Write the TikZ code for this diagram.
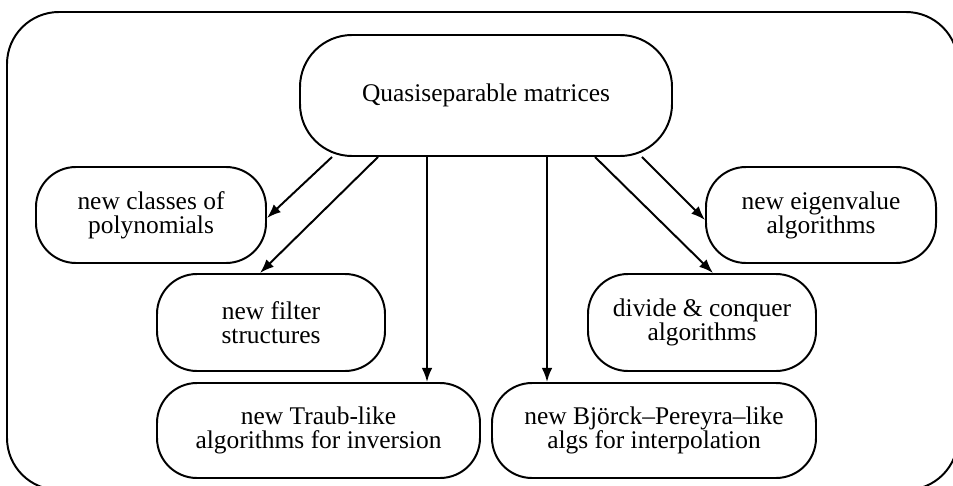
\documentclass[tikz,border=0pt]{standalone}
\usepackage{fontspec}
\setmainfont{Liberation Serif}
\usetikzlibrary{arrows.meta,positioning}

\begin{document}
\begin{tikzpicture}[font=\fontsize{18.1}{17}\selectfont,
  b/.style={rectangle,rounded corners=1cm,minimum width=5.75cm,minimum height=2.4cm,
            align=center,draw,line width=1.4pt,inner sep=0pt},
  a/.style={-{Latex[length=10pt,width=7.5pt]},line width=1.4pt}]

  \useasboundingbox (0,0) rectangle (23.825,-12.125);
  \draw[line width=1.4pt,rounded corners=1.3cm] (0.175,-0.3) rectangle (23.95,-12.25);

  \node[b,minimum width=9.3cm,minimum height=3.025cm,rounded corners=1.3cm] (qs) at (12.15,-2.3875) {Quasiseparable matrices};
  \node[b] (cl) at (3.775,-5.375) {new classes of\\polynomials};
  \node[b] (ev) at (20.525,-5.375) {new eigenvalue\\algorithms};
  \node[b,minimum width=5.7cm,minimum height=2.425cm] (fs) at (6.775,-8.0625) {new filter\\structures};
  \node[b,minimum width=5.7cm,minimum height=2.425cm] (dc) at (17.55,-8.0625) {divide \& conquer\\algorithms};
  \node[b,minimum width=8.075cm,minimum height=2.375cm] (tr) at (7.9625,-10.7625) {new Traub-like\\algorithms for inversion};
  \node[b,minimum width=8.1cm,minimum height=2.375cm] (bp) at (16.35,-10.7625) {new Björck--Pereyra--like\\algs for interpolation};

  \coordinate (t1) at ([xshift=-1.475cm]qs.south);
  \coordinate (t2) at ([xshift=1.525cm]qs.south);

  \draw[a] ([xshift=-3.85cm]qs.south) -- ([yshift=-0.075cm]cl.east);
  \draw[a] ([xshift=-2.7cm]qs.south) -- ([xshift=-0.275cm]fs.north);
  \draw[a] (t1) -- (t1 |- tr.north);
  \draw[a] (t2) -- (t2 |- bp.north);
  \draw[a] ([xshift=2.725cm]qs.south) -- ([xshift=0.275cm]dc.north);
  \draw[a] ([xshift=3.9cm]qs.south) -- ([yshift=-0.125cm]ev.west);
\end{tikzpicture}
\end{document}
